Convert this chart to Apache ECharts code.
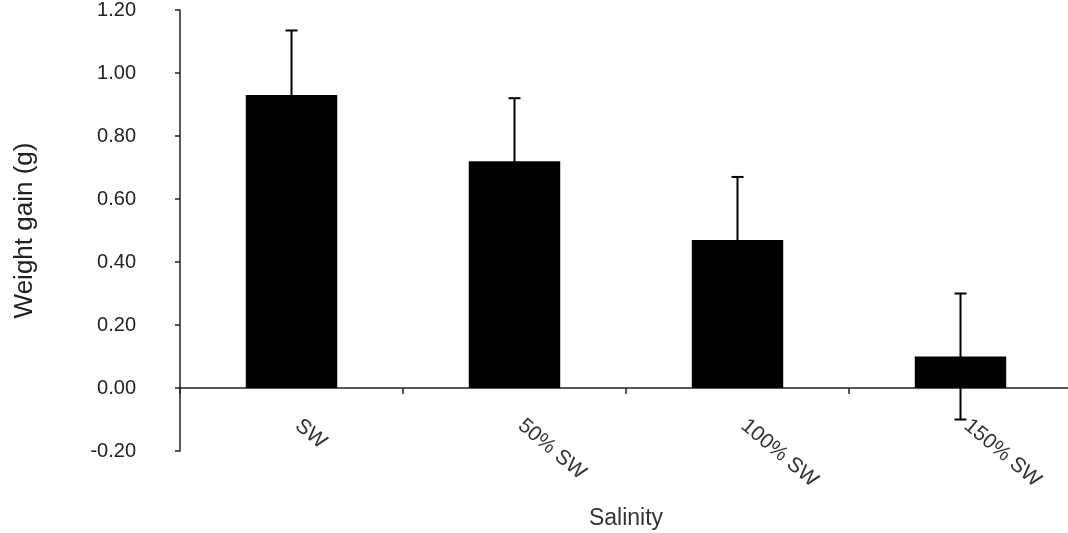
<!DOCTYPE html>
<html>
<head>
<meta charset="utf-8">
<script src="https://cdn.jsdelivr.net/npm/echarts@6/dist/echarts.min.js"></script>
<style>
html,body{margin:0;padding:0;background:#fff;}
#main{width:1068px;height:533px;}
</style>
</head>
<body>
<div id="main"></div>
<script>
var categories = ['SW', '50% SW', '100% SW', '150% SW'];
var means = [0.93, 0.72, 0.47, 0.10];
var errors = [0.205, 0.20, 0.20, 0.20];
var yTicks = [-0.2, 0, 0.2, 0.4, 0.6, 0.8, 1.0, 1.2];

var chart = echarts.init(document.getElementById('main'));
var errData = means.map(function (m, i) { return [i, m - errors[i], m + errors[i]]; });

chart.setOption({
  animation: false,
  backgroundColor: '#fff',
  grid: { left: 180, right: -4, top: 10, bottom: 82, containLabel: false, outerBoundsMode: 'none' },
  xAxis: {
    type: 'category',
    data: categories,
    name: 'Salinity',
    nameLocation: 'middle',
    nameGap: 56,
    nameTextStyle: { fontFamily: 'Liberation Sans Narrow, Liberation Sans, Arial, sans-serif', fontSize: 23, color: '#333' },
    axisLine: { onZero: true, lineStyle: { color: '#222', width: 1.5 } },
    axisTick: { show: true, length: 6, lineStyle: { color: '#222', width: 1.5 } },
    axisLabel: {
      rotate: -40,
      margin: -33,
      padding: [0, 0, 0, 8],
      fontFamily: 'Liberation Sans, Arial, sans-serif',
      fontSize: 21,
      color: '#333'
    },
    splitLine: { show: false }
  },
  yAxis: {
    type: 'value',
    min: yTicks[0],
    max: yTicks[yTicks.length - 1],
    interval: 0.2,
    name: 'Weight gain (g)',
    nameLocation: 'middle',
    nameGap: 142,
    nameTextStyle: { fontFamily: 'Liberation Sans, Arial, sans-serif', fontSize: 26, color: '#222' },
    axisLine: { show: true, lineStyle: { color: '#222', width: 1.5 } },
    axisTick: { show: true, length: 5, lineStyle: { color: '#222', width: 1.5 } },
    axisLabel: {
      margin: 44,
      fontFamily: 'Liberation Sans, Arial, sans-serif',
      fontSize: 20,
      color: '#222',
      formatter: function (v) { return v.toFixed(2); }
    },
    splitLine: { show: false }
  },
  series: [
    {
      type: 'bar',
      data: means,
      barWidth: '41%',
      itemStyle: { color: '#000' },
      z: 2
    },
    {
      type: 'custom',
      data: errData,
      z: 3,
      renderItem: function (params, api) {
        var x = api.value(0);
        var lo = api.coord([x, api.value(1)]);
        var hi = api.coord([x, api.value(2)]);
        var cap = 6;
        var style = { stroke: '#000', lineWidth: 2 };
        return {
          type: 'group',
          children: [
            { type: 'line', shape: { x1: hi[0], y1: hi[1], x2: lo[0], y2: lo[1] }, style: style },
            { type: 'line', shape: { x1: hi[0] - cap, y1: hi[1], x2: hi[0] + cap, y2: hi[1] }, style: style },
            { type: 'line', shape: { x1: lo[0] - cap, y1: lo[1], x2: lo[0] + cap, y2: lo[1] }, style: style }
          ]
        };
      }
    }
  ]
});
</script>
</body>
</html>
